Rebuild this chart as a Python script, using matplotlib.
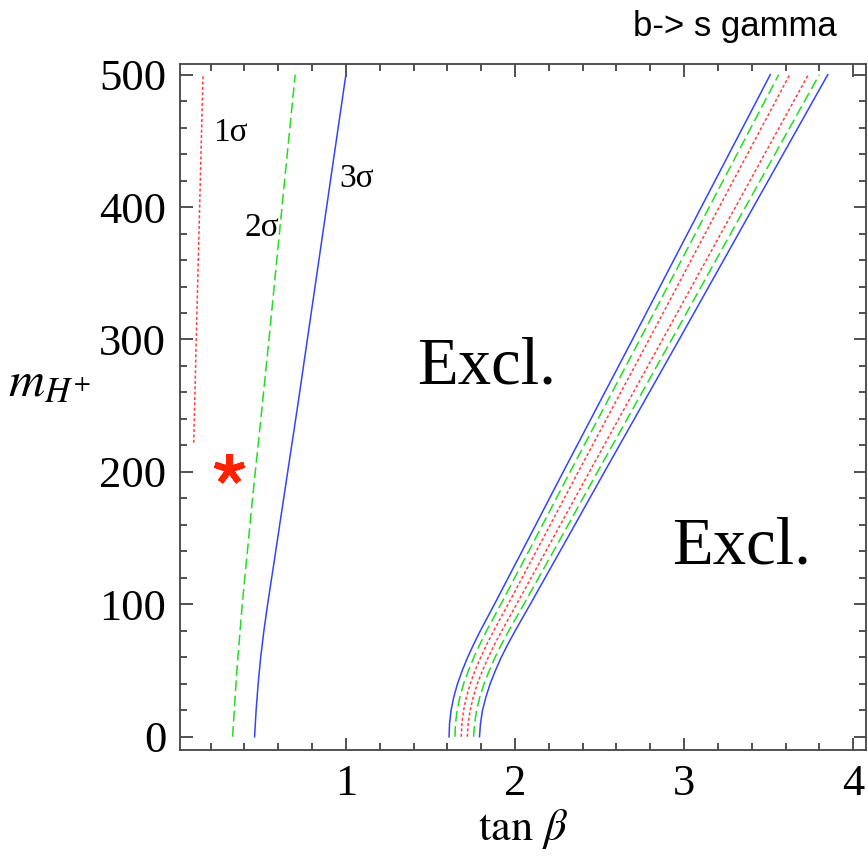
import matplotlib
matplotlib.use("Agg")
import matplotlib.pyplot as plt
from matplotlib.ticker import MultipleLocator

plt.rcParams['font.family'] = ['Liberation Serif', 'DejaVu Serif']
plt.rcParams['mathtext.fontset'] = 'stix'

# datos (m_H+ contra tan beta)
# curvas izquierdas
m_red1 = [222, 300, 400, 500]
t_red1 = [0.100, 0.115, 0.135, 0.155]

m_green1 = [0, 50, 100, 179, 250, 300, 400, 500]
t_green1 = [0.330, 0.355, 0.387, 0.447, 0.505, 0.545, 0.622, 0.700]

m_blue1 = [0, 20, 40, 60, 80, 100, 130, 180, 250, 300, 400, 500]
t_blue1 = [0.460, 0.469, 0.481, 0.496, 0.515, 0.537, 0.573, 0.632, 0.715, 0.772, 0.886, 1.000]

# banda derecha
m_band = [0, 10, 20, 30, 40, 50, 60, 70, 80, 100, 150, 200, 300, 400, 500]
t_blue_l = [1.610, 1.613, 1.622, 1.638, 1.660, 1.688, 1.720, 1.756, 1.795, 1.878, 2.082, 2.285, 2.695, 3.102, 3.510]
t_green_l = [1.645, 1.648, 1.658, 1.674, 1.696, 1.725, 1.757, 1.793, 1.832, 1.916, 2.122, 2.326, 2.739, 3.149, 3.560]
t_red_l = [1.682, 1.686, 1.696, 1.713, 1.735, 1.764, 1.797, 1.834, 1.874, 1.959, 2.167, 2.374, 2.793, 3.208, 3.625]
t_red_r = [1.718, 1.723, 1.735, 1.753, 1.777, 1.808, 1.842, 1.880, 1.922, 2.009, 2.225, 2.440, 2.873, 3.304, 3.735]
t_green_r = [1.755, 1.761, 1.773, 1.792, 1.817, 1.848, 1.882, 1.921, 1.963, 2.052, 2.271, 2.488, 2.927, 3.363, 3.800]
t_blue_r = [1.790, 1.796, 1.808, 1.828, 1.853, 1.884, 1.919, 1.958, 2.001, 2.090, 2.310, 2.529, 2.971, 3.410, 3.850]

# punto marcado
star_t = [0.306]
star_m = [202]

rojo = '#ff4040'
verde = '#22dd22'
azul = '#3344ff'
punteado = (0, (2, 1.5))
rayado = (0, (7, 3))

fig = plt.figure(figsize=(8.68, 8.56), dpi=100)
ax = fig.add_axes([0.2074, 0.1238, 0.7903, 0.8014])

ax.plot(t_red1, m_red1, color=rojo, lw=1.1, linestyle=punteado)
ax.plot(t_green1, m_green1, color=verde, lw=1.1, linestyle=rayado)
ax.plot(t_blue1, m_blue1, color=azul, lw=1.1)

ax.plot(t_blue_l, m_band, color=azul, lw=1.1)
ax.plot(t_green_l, m_band, color=verde, lw=1.1, linestyle=rayado)
ax.plot(t_red_l, m_band, color=rojo, lw=1.1, linestyle=punteado)
ax.plot(t_red_r, m_band, color=rojo, lw=1.1, linestyle=punteado)
ax.plot(t_green_r, m_band, color=verde, lw=1.1, linestyle=rayado)
ax.plot(t_blue_r, m_band, color=azul, lw=1.1)

ax.plot(star_t, star_m, marker=(5, 2, 0), markersize=22, mew=4.5,
        color='#ff2200', linestyle='none')

ax.text(0.32, 456, '1σ', fontsize=24, ha='center', va='center')
ax.text(0.506, 384, '2σ', fontsize=24, ha='center', va='center')
ax.text(1.065, 421, '3σ', fontsize=24, ha='center', va='center')
ax.text(1.83, 279, 'Excl.', fontsize=48, ha='center', va='center')
ax.text(3.34, 143, 'Excl.', fontsize=48, ha='center', va='center')

ax.set_xlim(0.019, 4.076)
ax.set_ylim(-10, 508)
ax.xaxis.set_major_locator(MultipleLocator(1))
ax.xaxis.set_minor_locator(MultipleLocator(0.2))
ax.yaxis.set_major_locator(MultipleLocator(100))
ax.yaxis.set_minor_locator(MultipleLocator(20))
ax.tick_params(which='both', direction='in', top=True, right=True,
               color='#333333', width=1.2)
ax.tick_params(which='major', length=9, labelsize=32, pad=10)
ax.tick_params(which='minor', length=5)
for s in ax.spines.values():
    s.set_color('#444444')
    s.set_linewidth(1.3)

ax.set_xlabel(r'$\mathrm{tan}\ \beta$', fontsize=32, labelpad=2)
ax.set_ylabel(r'$m_{H^{+}}$', fontsize=36, rotation=0)
ax.yaxis.set_label_coords(-0.19, 0.50)

fig.text(0.964, 0.988, 'b-> s gamma', fontsize=25, ha='right', va='top',
         family='Liberation Sans')

fig.savefig('out.png', dpi=100)
